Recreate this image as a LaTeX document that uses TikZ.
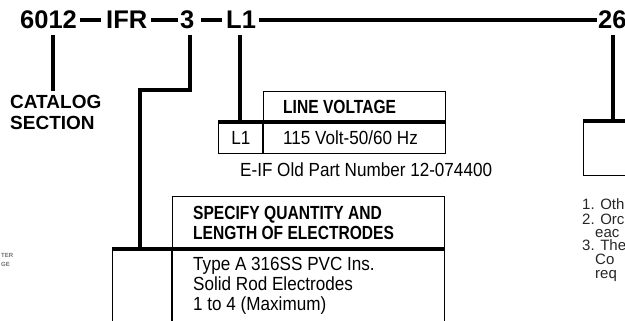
\documentclass[tikz,border=0pt]{standalone}
\usepackage{fontspec}
\setmainfont{Liberation Sans}
\newfontfamily\condr[FakeStretch=0.9]{Liberation Sans}
\newfontfamily\condb[FakeStretch=0.82]{Liberation Sans}
\tikzset{
  code/.style={font=\bfseries\fontsize{25.5}{25.5}\selectfont, inner sep=0pt, anchor=base west, text height=18pt, text depth=0pt},
  heavy/.style={line width=3.2pt},
  thinbox/.style={draw, line width=1.3pt, inner sep=0pt, anchor=north west},
  hdr/.style={font=\condb\bfseries\fontsize{19}{20}\selectfont, inner sep=0pt, anchor=west, align=left},
  cell/.style={font=\condr\fontsize{19}{20}\selectfont, inner sep=0pt, anchor=west, align=left},
  note/.style={font=\fontsize{15}{15}\selectfont, inner sep=0pt, anchor=base west, text height=10pt, text depth=1pt, text=black!85},
  tiny/.style={font=\bfseries\fontsize{6}{6}\selectfont, inner sep=0pt, anchor=west, text=black!55}
}
\begin{document}
\begin{tikzpicture}[x=1pt,y=-1pt]
\useasboundingbox[fill=white] (0,0) rectangle (625,321);

% catalog code
\node[code] (c6012) at (20,29) {6012};
\node[code] (cIFR) at (106,29) {IFR};
\node[code] (c3) at (180,29) {3};
\node[code] (cL1) at (226,29) {L1};
\node[code] (c26) at (598,29) {26};
\draw[heavy] ([xshift=3pt]c6012.east) -- ([xshift=-5pt]cIFR.west);
\draw[heavy] ([xshift=4pt]cIFR.east) -- ([xshift=-2pt]c3.west);
\draw[heavy] ([xshift=6pt]c3.east) -- ([xshift=-4pt]cL1.west);
\draw[heavy] ([xshift=3pt]cL1.east) -- ([xshift=-1pt]c26.west);

% catalog section
\node[font=\bfseries\fontsize{19}{21}\selectfont, align=left, inner sep=0pt, anchor=north west] (cat) at (10,95) {CATALOG\\SECTION};
\coordinate (t6012) at (53,35);
\draw[heavy] (t6012) -- (t6012 |- 0,91);

% line voltage table
\node[thinbox, minimum width=182pt, minimum height=31pt] (lvh) at (263,91) {};
\node[thinbox, minimum width=227pt, minimum height=31pt] (lvr) at (218,122) {};
\draw[line width=1.3pt] (263,122) -- (263,153);
\draw[heavy] (lvr.north west) -- (lvr.north east);
\node[hdr] (lvt) at (283,107) {LINE VOLTAGE};
\node[cell, anchor=center] (l1c) at (241,138) {L1};
\node[cell] (v115) at (283,138) {115 Volt-50/60 Hz};
\node[cell] (old) at (240,170) {E-IF Old Part Number 12-074400};
\coordinate (tL1) at (240,35);
\draw[heavy] (tL1) -- (tL1 |- lvr.north);

% electrodes table
\node[thinbox, minimum width=272pt, minimum height=53pt] (elh) at (172,196) {};
\node[thinbox, minimum width=332pt, minimum height=85pt] (elr) at (112,249) {};
\draw[line width=1.3pt] (172,249) -- (172,334);
\draw[heavy] (elr.north west) -- (elr.north east);
\node[hdr] (elt) at (193,223) {SPECIFY QUANTITY AND\\[0pt]LENGTH OF ELECTRODES};
\node[cell] (elb) at (193,286) {Type A 316SS PVC Ins.\\Solid Rod Electrodes\\1 to 4 (Maximum)};
\coordinate (t3) at (190,35);
\draw[heavy, line join=miter] (t3) -- (190,90) -- (140,90) -- (140,0 |- elr.north);

% right column
\node[thinbox, minimum width=60pt, minimum height=54pt] (rb) at (583,121) {};
\draw[heavy] (rb.north west) -- (rb.north east);
\coordinate (t26) at (613,35);
\draw[heavy] (t26) -- (t26 |- rb.north);
\node[note] (n1) at (582,210) {1. Oth};
\node[note] (n2) at (582,224) {2. Orc};
\node[note] (n2b) at (595,237.5) {eac};
\node[note] (n3) at (582,251) {3. The};
\node[note] (n3b) at (595,264.5) {Co};
\node[note] (n3c) at (595,278) {req};

% cut-off left text
\node[tiny] (tr1) at (1,255) {TER};
\node[tiny] (tr2) at (1,264) {GE};
\end{tikzpicture}
\end{document}
